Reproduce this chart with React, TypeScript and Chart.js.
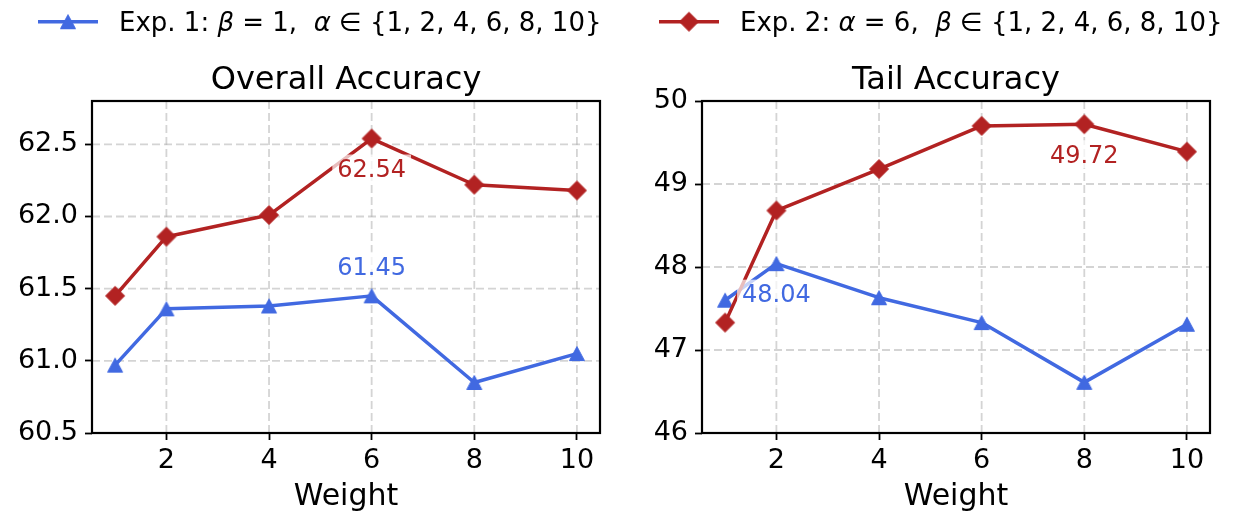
import React, { useEffect, useRef } from 'react';
import { Chart, registerables } from 'chart.js';

Chart.register(...registerables);

// ---------------- data ----------------
const WEIGHTS = [1, 2, 4, 6, 8, 10];
const OVERALL_EXP1 = [60.97, 61.36, 61.38, 61.45, 60.85, 61.05];
const OVERALL_EXP2 = [61.45, 61.86, 62.01, 62.54, 62.22, 62.18];
const TAIL_EXP1 = [47.6, 48.04, 47.63, 47.33, 46.61, 47.31];
const TAIL_EXP2 = [47.33, 48.68, 49.18, 49.7, 49.72, 49.39];

const X_TICKS = [2, 4, 6, 8, 10];
const OVERALL_Y_TICKS = [60.5, 61.0, 61.5, 62.0, 62.5];
const TAIL_Y_TICKS = [46, 47, 48, 49, 50];

const LABEL_EXP1 = 'Exp. 1: β = 1,  α ∈ {1, 2, 4, 6, 8, 10}';
const LABEL_EXP2 = 'Exp. 2: α = 6,  β ∈ {1, 2, 4, 6, 8, 10}';

// ---------------- style ----------------
const FONT = '"DejaVu Sans", "Liberation Sans", sans-serif';
const BLUE = '#4169E1';
const RED = '#B22222';
const GRID = 'rgba(176,176,176,0.55)';

function makeTriangle(color: string) {
  const c = document.createElement('canvas');
  c.width = 18;
  c.height = 17;
  const g = c.getContext('2d')!;
  g.fillStyle = color;
  g.strokeStyle = color;
  g.lineWidth = 1;
  g.lineJoin = 'miter';
  g.beginPath();
  g.moveTo(9, 1.5);
  g.lineTo(16.5, 15.5);
  g.lineTo(1.5, 15.5);
  g.closePath();
  g.fill();
  g.stroke();
  return c;
}

function makeDiamond(color: string) {
  const c = document.createElement('canvas');
  c.width = 22;
  c.height = 22;
  const g = c.getContext('2d')!;
  g.fillStyle = color;
  g.strokeStyle = color;
  g.lineWidth = 1;
  g.beginPath();
  g.moveTo(11, 1.5);
  g.lineTo(20.5, 11);
  g.lineTo(11, 20.5);
  g.lineTo(1.5, 11);
  g.closePath();
  g.fill();
  g.stroke();
  return c;
}

type Seg = [string, boolean];
const LEGEND1_SEGS: Seg[] = [['Exp. 1: ', false], ['β', true], [' = 1,  ', false], ['α', true], [' ∈ {1, 2, 4, 6, 8, 10}', false]];
const LEGEND2_SEGS: Seg[] = [['Exp. 2: ', false], ['α', true], [' = 6,  ', false], ['β', true], [' ∈ {1, 2, 4, 6, 8, 10}', false]];

interface Ann { series: 'blue' | 'red'; dy: number }

interface PanelOpts {
  blue: number[];
  red: number[];
  yTicks: number[];
  yMin: number;
  yMax: number;
  yDecimals: number;
  padLeft: number;
  padRight: number;
  title: string;
  anns: Ann[];
  legend: boolean;
  tri: HTMLCanvasElement;
  dia: HTMLCanvasElement;
}

function line(ctx: CanvasRenderingContext2D, x1: number, y1: number, x2: number, y2: number) {
  ctx.beginPath();
  ctx.moveTo(x1, y1);
  ctx.lineTo(x2, y2);
  ctx.stroke();
}

function drawSegs(ctx: CanvasRenderingContext2D, segs: Seg[], x: number, y: number, size: number) {
  let cx = x;
  ctx.textAlign = 'left';
  ctx.textBaseline = 'alphabetic';
  ctx.fillStyle = '#000';
  for (const [t, it] of segs) {
    ctx.font = `${it ? 'italic ' : ''}${size}px ${FONT}`;
    ctx.fillText(t, cx, y);
    cx += ctx.measureText(t).width;
  }
}

function buildConfig(p: PanelOpts): any {
  const panelPlugin = {
    id: 'panel',
    beforeDatasetsDraw(chart: any) {
      const { ctx, chartArea: a, scales } = chart;
      ctx.save();
      ctx.strokeStyle = GRID;
      ctx.lineWidth = 1.8;
      ctx.setLineDash([8, 4]);
      for (const v of X_TICKS) {
        const px = scales.x.getPixelForValue(v);
        line(ctx, px, a.top, px, a.bottom);
      }
      for (const v of p.yTicks) {
        const py = scales.y.getPixelForValue(v);
        line(ctx, a.left, py, a.right, py);
      }
      ctx.restore();
    },
    afterDatasetsDraw(chart: any) {
      const { ctx, chartArea: a, scales } = chart;
      ctx.save();
      // annotations at series maxima
      for (const an of p.anns) {
        const series = an.series === 'blue' ? p.blue : p.red;
        const color = an.series === 'blue' ? BLUE : RED;
        const mx = Math.max(...series);
        const idx = series.indexOf(mx);
        const px = scales.x.getPixelForValue(WEIGHTS[idx]);
        const cy = scales.y.getPixelForValue(mx) + an.dy;
        ctx.font = `24px ${FONT}`;
        const txt = mx.toFixed(2);
        const w = ctx.measureText(txt).width;
        ctx.fillStyle = 'rgba(255,255,255,0.7)';
        ctx.fillRect(px - w / 2 - 5, cy - 14, w + 10, 28);
        ctx.fillStyle = color;
        ctx.textAlign = 'center';
        ctx.textBaseline = 'alphabetic';
        ctx.fillText(txt, px, cy + 8.7);
      }
      // spines
      ctx.strokeStyle = '#000';
      ctx.lineWidth = 2.2;
      ctx.strokeRect(a.left, a.top, a.right - a.left, a.bottom - a.top);
      ctx.restore();
    },
    afterDraw(chart: any) {
      const { ctx, chartArea: a } = chart;
      ctx.save();
      const cx = (a.left + a.right) / 2;
      ctx.fillStyle = '#000';
      ctx.textAlign = 'center';
      ctx.textBaseline = 'alphabetic';
      ctx.font = `32px ${FONT}`;
      ctx.fillText(p.title, cx, 88.5);
      ctx.font = `30px ${FONT}`;
      ctx.fillText('Weight', cx, 505);
      if (p.legend) {
        const entries: [Seg[], string, HTMLCanvasElement, number][] = [
          [LEGEND1_SEGS, BLUE, p.tri, 38],
          [LEGEND2_SEGS, RED, p.dia, 659],
        ];
        for (const [segs, color, img, x0] of entries) {
          ctx.strokeStyle = color;
          ctx.lineWidth = 3.5;
          line(ctx, x0, 21.7, x0 + 60, 21.7);
          ctx.drawImage(img, x0 + 30 - img.width / 2, 21.7 - img.height / 2);
          drawSegs(ctx, segs, x0 + 81, 30.7, 26);
        }
      }
      ctx.restore();
    },
  };

  const tickFont = { family: FONT, size: 27 };
  return {
    type: 'line',
    data: {
      datasets: [
        {
          label: LABEL_EXP1,
          data: WEIGHTS.map((w, i) => ({ x: w, y: p.blue[i] })),
          borderColor: BLUE,
          backgroundColor: BLUE,
          borderWidth: 3.5,
          borderJoinStyle: 'round',
          borderCapStyle: 'round',
          pointStyle: p.tri,
          pointRadius: 9,
          tension: 0,
          fill: false,
          order: 2,
        },
        {
          label: LABEL_EXP2,
          data: WEIGHTS.map((w, i) => ({ x: w, y: p.red[i] })),
          borderColor: RED,
          backgroundColor: RED,
          borderWidth: 3.5,
          borderJoinStyle: 'round',
          borderCapStyle: 'round',
          pointStyle: p.dia,
          pointRadius: 9,
          tension: 0,
          fill: false,
          order: 1,
        },
      ],
    },
    options: {
      animation: false,
      responsive: false,
      devicePixelRatio: 1,
      events: [],
      layout: { padding: { left: p.padLeft, right: p.padRight, top: 101, bottom: 0 } },
      plugins: {
        legend: { display: false },
        tooltip: { enabled: false },
        title: { display: false },
      },
      scales: {
        x: {
          type: 'linear',
          min: 0.55,
          max: 10.45,
          afterBuildTicks: (s: any) => {
            s.ticks = X_TICKS.map((v) => ({ value: v }));
          },
          afterFit: (s: any) => {
            s.height = 79;
          },
          grid: {
            display: true,
            drawOnChartArea: false,
            drawTicks: true,
            tickLength: 7,
            tickWidth: 1.8,
            tickColor: '#000',
          },
          border: { display: false },
          ticks: {
            color: '#000',
            font: tickFont,
            padding: 5,
            maxRotation: 0,
            autoSkip: false,
            callback: (v: any) => String(v),
          },
        },
        y: {
          type: 'linear',
          min: p.yMin,
          max: p.yMax,
          afterBuildTicks: (s: any) => {
            s.ticks = p.yTicks.map((v) => ({ value: v }));
          },
          afterFit: (s: any) => {
            s.width = 92;
          },
          grid: {
            display: true,
            drawOnChartArea: false,
            drawTicks: true,
            tickLength: 7,
            tickWidth: 1.8,
            tickColor: '#000',
          },
          border: { display: false },
          ticks: {
            color: '#000',
            font: tickFont,
            padding: 7,
            autoSkip: false,
            callback: (v: any) => Number(v).toFixed(p.yDecimals),
          },
        },
      },
    },
    plugins: [panelPlugin],
  };
}

export default function App() {
  const ref1 = useRef<HTMLCanvasElement>(null);
  const ref2 = useRef<HTMLCanvasElement>(null);

  useEffect(() => {
    const tri = makeTriangle(BLUE);
    const dia = makeDiamond(RED);
    const c1 = new Chart(
      ref1.current!,
      buildConfig({
        blue: OVERALL_EXP1,
        red: OVERALL_EXP2,
        yTicks: OVERALL_Y_TICKS,
        yMin: 60.5,
        yMax: 62.8,
        yDecimals: 1,
        padLeft: 0,
        padRight: 648,
        title: 'Overall Accuracy',
        anns: [
          { series: 'red', dy: 30 },
          { series: 'blue', dy: -30 },
        ],
        legend: true,
        tri,
        dia,
      })
    );
    const c2 = new Chart(
      ref2.current!,
      buildConfig({
        blue: TAIL_EXP1,
        red: TAIL_EXP2,
        yTicks: TAIL_Y_TICKS,
        yMin: 46,
        yMax: 50,
        yDecimals: 0,
        padLeft: 610,
        padRight: 38,
        title: 'Tail Accuracy',
        anns: [
          { series: 'blue', dy: 30 },
          { series: 'red', dy: 30 },
        ],
        legend: false,
        tri,
        dia,
      })
    );
    return () => {
      c1.destroy();
      c2.destroy();
    };
  }, []);

  const cs: React.CSSProperties = { position: 'absolute', left: 0, top: 0, width: 1248, height: 512 };
  return (
    <div style={{ position: 'fixed', left: 0, top: 0, width: 1248, height: 512, background: '#fff' }}>
      <canvas ref={ref1} width={1248} height={512} style={cs} />
      <canvas ref={ref2} width={1248} height={512} style={cs} />
    </div>
  );
}
